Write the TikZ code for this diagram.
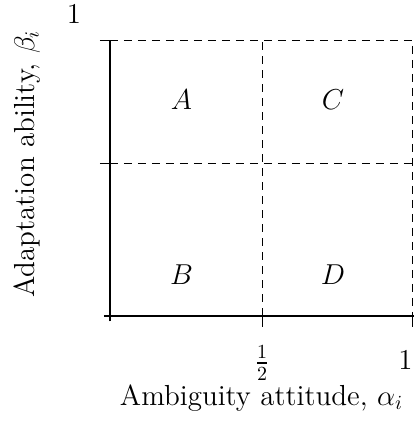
\documentclass[tikz,border=0pt]{standalone}
\usepackage{amsmath}

\begin{document}
\begin{tikzpicture}[x=151.5pt,y=137.5pt,
  every node/.style={font=\fontsize{14.5}{17}\selectfont},
  axisline/.style={line width=1pt},
  gridline/.style={line width=0.5pt, dash pattern=on 4pt off 3pt}]
\useasboundingbox (-0.363,-0.382) rectangle (1.003,1.149);

% Dashed grid
\draw[gridline] (0,1) -- (1,1) -- (1,0);
\draw[gridline] (0.502,0) -- (0.502,1);
\draw[gridline] (0,0.556) -- (1,0.556);

% Axes with ticks
\draw[axisline] (-0.02,0) -- (1.01,0);
\draw[axisline] (0,-0.02) -- (0,1);
\draw[line width=0.5pt] (-0.033,1) -- (0,1);
\draw[line width=0.5pt] (-0.033,0.556) -- (0,0.556);
\draw[line width=0.5pt] (0.502,0) -- (0.502,-0.04);
\draw[line width=0.5pt] (1,0) -- (1,-0.04);

% Tick labels
\node (yone) at (-0.119,1.098) {$1$};
\node (xhalf) at (0.502,-0.171) {$\frac{1}{2}$};
\node[anchor=east, inner xsep=0.5pt] (xone) at (1.003,-0.16) {$1$};

% Axis labels
\node (xlabel) at (0.5,-0.298) {Ambiguity attitude, $\alpha_i$};
\node[rotate=90] (ylabel) at (-0.274,0.553) {Adaptation ability, $\beta_i$};

% Regions
\node (regA) at (0.236,0.785) {$A$};
\node (regC) at (0.736,0.785) {$C$};
\node (regB) at (0.236,0.149) {$B$};
\node (regD) at (0.736,0.149) {$D$};
\end{tikzpicture}
\end{document}
